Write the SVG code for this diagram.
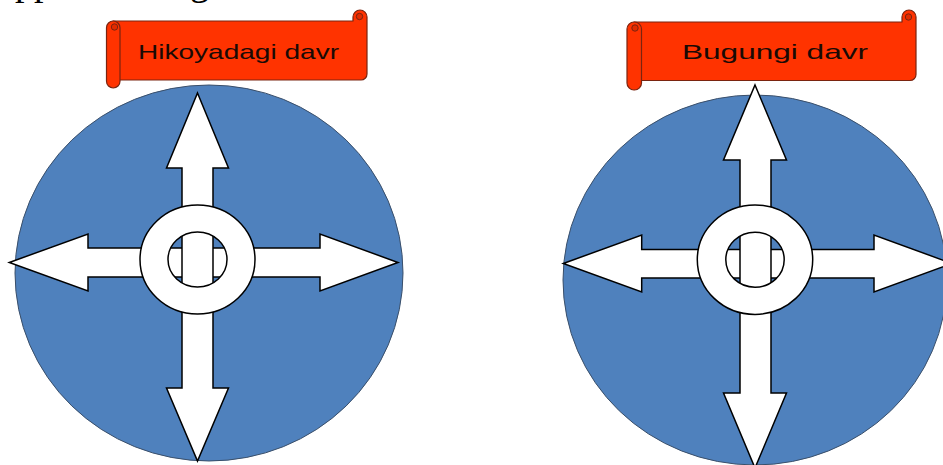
<svg xmlns="http://www.w3.org/2000/svg" width="943" height="465" viewBox="0 0 943 465">
  <style>
    .disc { fill: #4f81bd; stroke: #3a4f6a; stroke-width: 1; }
    .arrow { fill: #ffffff; stroke: #000000; stroke-width: 1.5; stroke-linejoin: miter; }
    .ring { fill: #ffffff; fill-rule: evenodd; stroke: #000000; stroke-width: 1.5; }
    .scroll { fill: #ff3300; stroke: #7a2410; stroke-width: 1.2; stroke-linejoin: round; }
    .curl { fill: #e02b00; stroke: #7a2410; stroke-width: 1; }
    .label { font-family: "Liberation Sans", Arial, sans-serif; font-size: 21px; fill: #1a0a05; }
    .cut { font-family: "Liberation Serif", "Times New Roman", serif; font-size: 38px; fill: #000000; }
  </style>
  <rect width="943" height="465" fill="#ffffff"/>

  <text class="cut" x="15" y="-5">pp</text>
  <text class="cut" x="190" y="-5">g</text>

  <!-- Left diagram -->
  <g id="left-disc">
    <ellipse class="disc" cx="209" cy="273" rx="194" ry="188"/>
  </g>
  <g id="left-banner">
    <path class="scroll" d="M113,21 H353 V17 A7,7 0 0 1 367,17 V74 A6,6 0 0 1 361,80 H113 Z"/>
    <circle class="curl" cx="359.5" cy="16.5" r="3.2"/>
    <rect class="scroll" x="106.5" y="21" width="13.5" height="67" rx="6.75" ry="6.75"/>
    <circle class="curl" cx="114.5" cy="27" r="3.2"/>
    <text class="label" x="138" y="58.5" textLength="201" lengthAdjust="spacingAndGlyphs">Hikoyadagi davr</text>
  </g>
  <g id="left-connectors">
    <polygon class="arrow" points="9.3,262.5 88,234 88,248 320,248 320,234 398,262.5 320,291 320,277 88,277 88,291"/>
    <polygon class="arrow" points="197.5,93 228.5,168 213,168 213,388 228.5,388 197.5,461 166.5,388 182,388 182,168 166.5,168"/>
  </g>
  <g id="left-ring">
    <path class="ring" d="M140,259.5 a57.5,54.5 0 1 0 115,0 a57.5,54.5 0 1 0 -115,0 Z M168,259.5 a29.5,27.5 0 1 0 59,0 a29.5,27.5 0 1 0 -59,0 Z"/>
  </g>

  <!-- Right diagram -->
  <g id="right-disc">
    <ellipse class="disc" cx="755" cy="280" rx="192" ry="185"/>
  </g>
  <g id="right-banner">
    <path class="scroll" d="M634,22 H902 V17 A7,7 0 0 1 916,17 V74.5 A6,6 0 0 1 910,80.5 H634 Z"/>
    <circle class="curl" cx="908.5" cy="17" r="3.2"/>
    <rect class="scroll" x="627" y="22" width="14.5" height="68" rx="7" ry="7"/>
    <circle class="curl" cx="635" cy="28" r="3.2"/>
    <text class="label" x="682" y="58.5" textLength="186" lengthAdjust="spacingAndGlyphs">Bugungi davr</text>
  </g>
  <g id="right-connectors">
    <polygon class="arrow" points="563.3,263.5 641.7,235 641.7,249.5 874,249.5 874,235 952,263.5 874,292 874,278 641.7,278 641.7,292"/>
    <polygon class="arrow" points="755,85 786.5,160 771,160 771,393 786.5,393 755,468 723.5,393 740,393 740,160 723.5,160"/>
  </g>
  <g id="right-ring">
    <path class="ring" d="M697.3,259.7 a57.7,54.7 0 1 0 115.4,0 a57.7,54.7 0 1 0 -115.4,0 Z M725.8,259.7 a29.2,27.5 0 1 0 58.4,0 a29.2,27.5 0 1 0 -58.4,0 Z"/>
  </g>
</svg>
